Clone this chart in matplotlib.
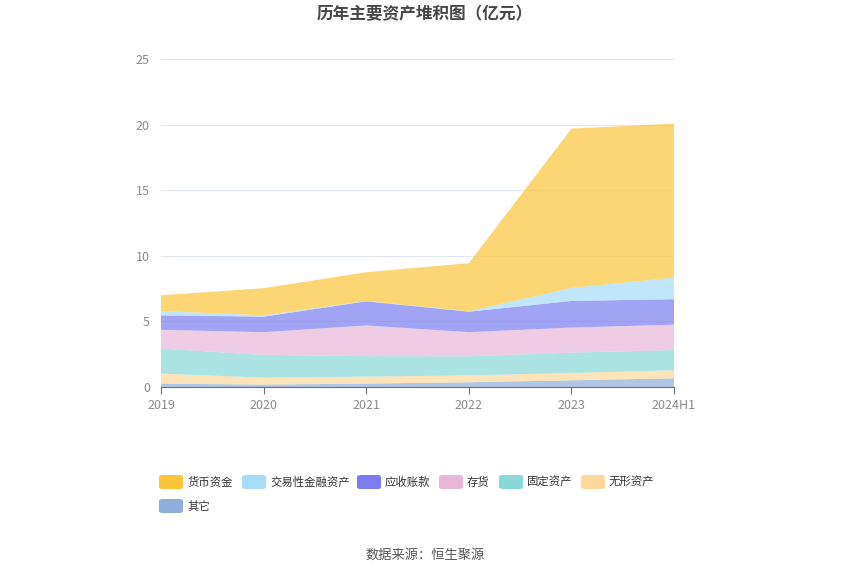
import matplotlib
matplotlib.use("Agg")
import matplotlib.pyplot as plt
from matplotlib.patches import FancyBboxPatch

plt.rcParams["font.family"] = ["Noto Sans CJK SC", "DejaVu Sans"]

# Data (亿元), stacked from bottom to top
years = ["2019", "2020", "2021", "2022", "2023", "2024H1"]
other = [0.26, 0.18, 0.26, 0.36, 0.51, 0.66]
intangible = [0.76, 0.53, 0.53, 0.52, 0.56, 0.61]
fixed_assets = [1.91, 1.74, 1.56, 1.46, 1.55, 1.55]
inventory = [1.43, 1.73, 2.34, 1.84, 1.91, 1.93]
receivables = [1.10, 1.18, 1.84, 1.56, 2.03, 1.94]
trading_fin = [0.33, 0.10, 0.03, 0.03, 0.99, 1.65]
cash = [1.20, 2.07, 2.19, 3.67, 12.14, 11.73]

series_names = ["其它", "无形资产", "固定资产", "存货", "应收账款", "交易性金融资产", "货币资金"]
series_vals = [other, intangible, fixed_assets, inventory, receivables, trading_fin, cash]
series_colors = ["#8eaedb", "#fdd89b", "#88d8d8", "#e8b7d8", "#7a7cf0", "#a6dcf8", "#fbc43a"]

fig = plt.figure(figsize=(8.5, 5.75), dpi=100)
ax = fig.add_axes([161 / 850, 1 - 387 / 575, (674 - 161) / 850, (387 - 59) / 575])

x = list(range(len(years)))
ax.stackplot(x, *series_vals, colors=series_colors, alpha=0.7, linewidth=0)

ax.set_xlim(0, len(years) - 1)
ax.set_ylim(0, 25)
ax.set_yticks([0, 5, 10, 15, 20, 25])
ax.set_xticks(x)
ax.set_xticklabels(years)
ax.grid(axis="y", color="#e0e6f1", linewidth=0.8)
ax.set_axisbelow(True)
for s in ["top", "right", "left"]:
    ax.spines[s].set_visible(False)
ax.spines["bottom"].set_color("#6e7079")
ax.tick_params(axis="y", length=0, labelcolor="#8a8a8a", labelsize=9, pad=8)
ax.tick_params(axis="x", length=5, color="#6e7079", labelcolor="#8a8a8a", labelsize=9)

fig.text(0.5, 1 - 14 / 575, "历年主要资产堆积图（亿元）", ha="center", va="center",
         fontsize=12, fontweight="bold", color="#464646")

# Legend drawn manually to match wrapping layout
legend_order = ["货币资金", "交易性金融资产", "应收账款", "存货", "固定资产", "无形资产", "其它"]
legend_pos = [(159, 482), (242, 482), (357, 482), (439, 482), (499, 482), (581, 482), (159, 506)]
color_map = dict(zip(series_names, series_colors))
for name, (px, py) in zip(legend_order, legend_pos):
    box = FancyBboxPatch((px / 850, 1 - (py + 7) / 575), 24 / 850, 14 / 575,
                         boxstyle="round,pad=0,rounding_size=0.004",
                         transform=fig.transFigure, facecolor=color_map[name],
                         edgecolor="none")
    fig.patches.append(box)
    fig.text((px + 28) / 850, 1 - py / 575, name, ha="left", va="center",
             fontsize=8.2, color="#333333")

fig.text(0.5, 1 - 555 / 575, "数据来源：恒生聚源", ha="center", va="center",
         fontsize=9.5, color="#555555")

fig.savefig("out.png", dpi=100)
